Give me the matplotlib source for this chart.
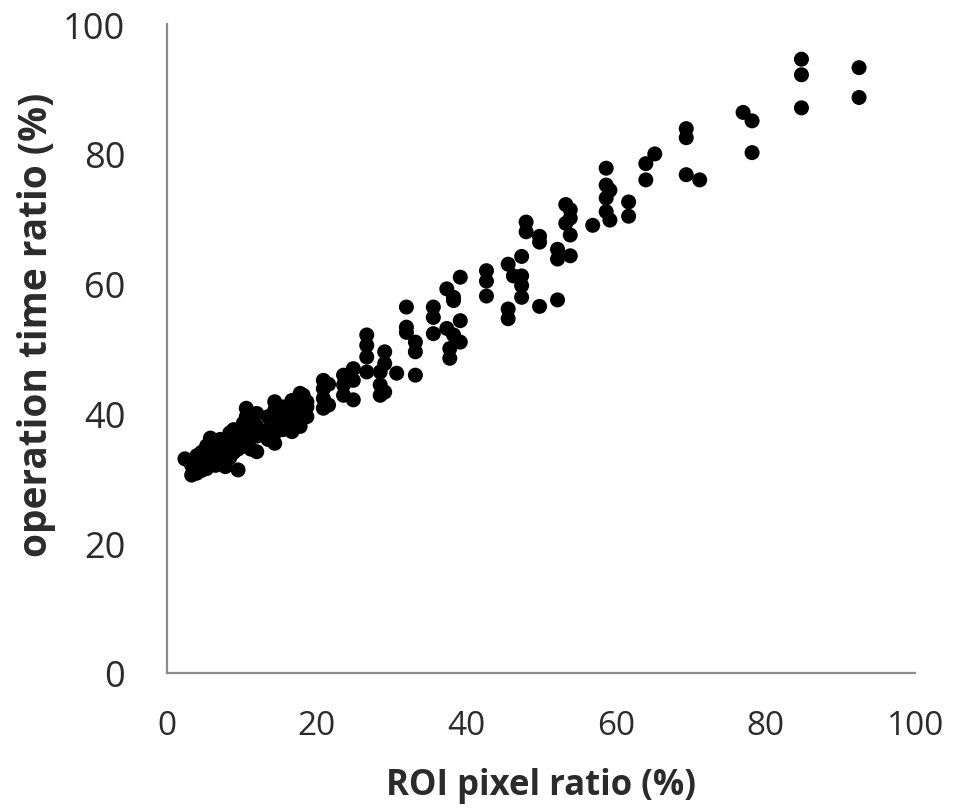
import matplotlib
matplotlib.use('Agg')
import matplotlib.pyplot as plt

# ── data (ROI pixel ratio %, operation time ratio %) ──
roi_ratio = [
    2.4,
    3.3, 3.3,
    4.0, 4.0, 4.0,
    4.6, 4.6, 4.6,
    5.3, 5.3, 5.3,
    5.8, 5.8, 5.8,
    6.5, 6.5, 6.5,
    7.1, 7.1, 7.1,
    7.8, 7.8, 7.8,
    8.4, 8.4, 8.4,
    8.9, 8.9, 8.9,
    9.5, 9.5, 9.5,
    10.2, 10.2, 10.2,
    10.6, 10.6, 10.6, 10.6,
    11.2, 11.2, 11.2,
    12.0, 12.0, 12.0, 12.0,
    13.5, 13.5, 13.5,
    14.4, 14.4, 14.4, 14.4, 14.4,
    15.5, 15.5, 15.5,
    16.7, 16.7, 16.7, 16.7,
    17.8, 17.8, 17.8, 17.8,
    18.2, 18.7, 18.7, 18.7,
    20.9, 20.9, 20.9, 20.9,
    21.6, 21.6,
    23.6, 23.6, 23.6,
    24.9, 24.9, 24.9,
    26.7, 26.7, 26.7, 26.7,
    28.5, 28.5, 28.5,
    29.1, 29.1, 29.1,
    30.7,
    32.0, 32.0, 32.0,
    33.2, 33.2, 33.2,
    35.6, 35.6, 35.6,
    37.4, 37.4, 37.8, 37.8,
    38.3, 38.3, 38.3,
    39.2, 39.2, 39.2,
    42.7, 42.7, 42.7,
    45.6, 45.6, 45.6, 46.3,
    47.4, 47.4, 47.4, 47.4,
    48.0, 48.0,
    49.8, 49.8, 49.8,
    52.2, 52.2, 52.2,
    53.3, 53.9, 53.9, 53.3, 53.9, 53.9,
    56.9,
    58.7, 58.7, 59.2, 58.7, 58.7, 59.2,
    61.7, 61.7,
    64.0, 65.2, 64.0,
    69.4, 69.4, 69.4, 71.2,
    77.0, 78.2, 78.2,
    84.8, 84.8, 84.8,
    92.5, 92.5,
]
op_time_ratio = [
    33.0,
    32.0, 30.5,
    33.5, 31.5, 30.8,
    34.0, 32.5, 31.2,
    35.0, 33.0, 31.5,
    36.2, 34.5, 32.8,
    35.5, 33.8, 32.0,
    36.0, 34.9, 33.0,
    35.2, 33.5, 31.8,
    37.0, 35.0, 33.2,
    37.5, 36.0, 34.0,
    36.5, 34.5, 31.3,
    38.5, 36.8, 35.0,
    40.8, 39.5, 37.8, 35.5,
    39.0, 37.0, 34.5,
    40.0, 38.0, 36.5, 34.1,
    39.5, 37.5, 36.0,
    41.8, 40.5, 38.8, 37.0, 35.4,
    41.0, 39.0, 37.5,
    42.0, 40.5, 38.5, 37.2,
    43.1, 41.5, 40.0, 38.0,
    42.8, 41.8, 41.0, 39.5,
    45.1, 43.8, 42.3, 40.8,
    44.5, 41.3,
    45.9, 44.4, 42.8,
    46.9, 45.1, 42.1,
    52.1, 50.5, 48.7, 46.4,
    46.4, 44.4, 42.8,
    49.5, 47.7, 43.3,
    46.2,
    56.4, 53.3, 52.5,
    51.0, 49.5, 45.9,
    56.4, 54.8, 52.3,
    59.2, 53.1, 50.0, 48.5,
    57.9, 57.4, 52.1,
    61.0, 54.3, 51.0,
    62.0, 60.4, 58.1,
    63.0, 56.1, 54.6, 61.2,
    64.2, 61.2, 59.7, 57.9,
    69.5, 68.0,
    67.3, 66.4, 56.5,
    65.3, 63.8, 57.5,
    72.2, 71.4, 70.1, 69.3, 67.5, 64.3,
    69.0,
    77.8, 75.2, 74.4, 73.2, 71.1, 69.8,
    72.6, 70.4,
    78.5, 80.0, 76.0,
    83.9, 82.5, 76.8, 76.0,
    86.4, 85.1, 80.2,
    94.6, 92.2, 87.1,
    93.3, 88.7,
]

AXIS = '#8c8c8c'
TXT = '#2b2b2b'

fig = plt.figure(figsize=(9.58, 8.12), dpi=100)
ax = fig.add_axes([0.1743, 0.170, 0.781, 0.799])

ax.scatter(roi_ratio, op_time_ratio, s=10.8**2, color='black',
           edgecolors='none', zorder=3, clip_on=False)

ax.set_xlim(0, 100)
ax.set_ylim(0, 100)
ax.set_xticks(range(0, 101, 20))
ax.set_yticks(range(0, 101, 20))

for sp in ['top', 'right']:
    ax.spines[sp].set_visible(False)
for sp in ['left', 'bottom']:
    ax.spines[sp].set_color(AXIS)
    ax.spines[sp].set_linewidth(1.6)

ax.tick_params(length=0)
ax.tick_params(axis='x', pad=26, labelsize=24, labelcolor=TXT)
ax.tick_params(axis='y', pad=30, labelsize=26, labelcolor=TXT)
for lab in ax.get_xticklabels() + ax.get_yticklabels():
    lab.set_fontfamily('Open Sans')

ax.set_xlabel('ROI pixel ratio (%)', fontsize=25, fontweight='bold',
              fontfamily='Open Sans', color=TXT, labelpad=18)
ax.set_ylabel('operation time ratio (%)', fontsize=28, fontweight='bold',
              fontfamily='Open Sans', color=TXT, labelpad=5)
ax.yaxis.label.set_y(0.538)

fig.savefig('out.png', dpi=100, facecolor='white')
